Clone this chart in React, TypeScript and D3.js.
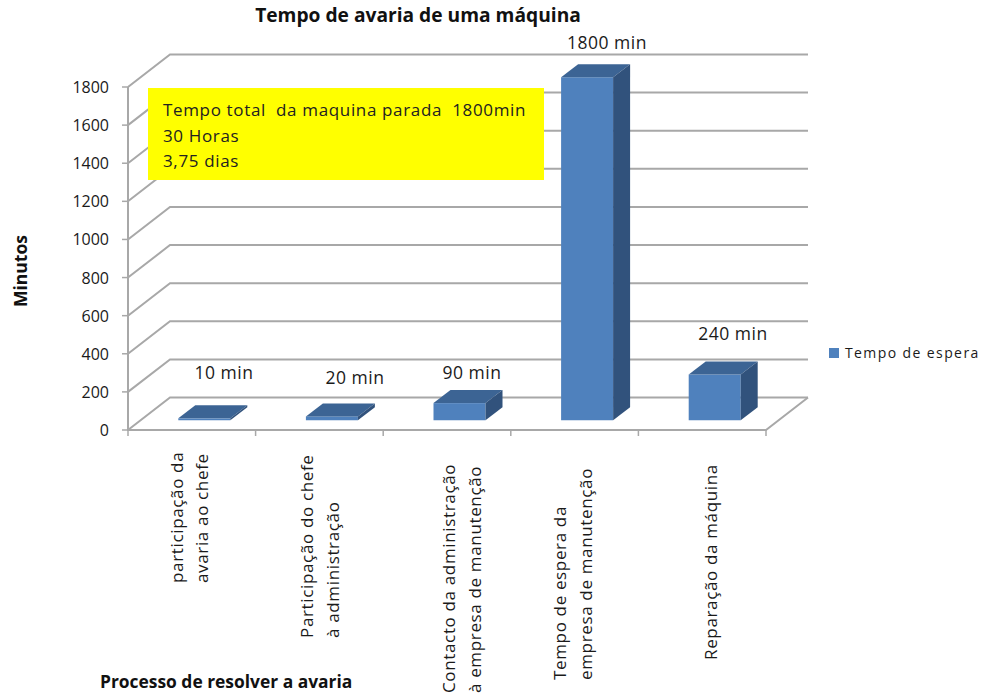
import React from "react";
import * as d3 from "d3";

const categories: string[][] = [
  ["participação da", "avaria ao chefe"],
  ["Participação do chefe", "à administração"],
  ["Contacto da administração", "à empresa de manutenção"],
  ["Tempo de espera da", "empresa de manutenção"],
  ["Reparação da máquina"],
];
const waitMinutes = [10, 20, 90, 1800, 240];
const valueLabels = ["10 min", "20 min", "90 min", "1800 min", "240 min"];
const yTicks = [0, 200, 400, 600, 800, 1000, 1200, 1400, 1600, 1800];
const noteLines = ["Tempo total  da maquina parada  1800min", "30 Horas", "3,75 dias"];

// Hand-placed label anchors: [x, baseline y]
const valueLabelAnchors = [[224, 379], [355, 384], [472, 379], [607, 49], [733, 340]];
const categoryLabelStarts = [583, 638, 693, 680, 660];
const categoryLabelX = [[183, 208], [313, 339], [455, 481], [566, 592], [717]];

const FONT = "'Open Sans', 'Noto Sans', sans-serif";
const GRID = "#a8a8a8";
const TEXT = "#1a1a1a";

// Oblique projection of the 3D chart box
const wallDx = 42;
const wallDy = -32.5;
const barDx = 17;
const barDy = -13;
const inX = (wallDx - barDx) / 2;
const inY = (wallDy - barDy) / 2;

const x = d3.scaleBand<number>().domain(d3.range(categories.length)).range([128, 766]);
const y = d3.scaleLinear().domain([0, 1800]).range([430, 87]);
const BAR_W = 52;

const poly = (pts: number[][]) => pts.map((p) => p.join(",")).join(" ");

export default function App() {
  const x0 = x.range()[0];
  const x1 = x.range()[1];
  const y0 = y(0);
  return (
    <svg
      width={984}
      height={697}
      style={{ position: "absolute", left: 0, top: 0, background: "#fff" }}
      fontFamily={FONT}
      fill={TEXT}
    >
      <text x={418} y={22} fontSize={19.2} fontWeight={700} textAnchor="middle" fill="#111">
        Tempo de avaria de uma máquina
      </text>

      {/* Wall gridlines, each with its receding segment on the side wall */}
      {yTicks.map((t) => (
        <g key={t}>
          <polyline
            points={poly([
              [x0, y(t)],
              [x0 + wallDx, y(t) + wallDy],
              [x1 + wallDx, y(t) + wallDy],
            ])}
            fill="none"
            stroke={GRID}
            strokeWidth={2}
          />
          <line x1={x0 - 6} x2={x0} y1={y(t)} y2={y(t)} stroke={GRID} strokeWidth={1.5} />
          <text x={109} y={y(t) + 6} fontSize={16} textAnchor="end">
            {t}
          </text>
        </g>
      ))}

      {/* Floor outline and axes */}
      <polyline
        points={poly([
          [x0, y(1800)],
          [x0, y0],
          [x1, y0],
          [x1 + wallDx, y0 + wallDy],
        ])}
        fill="none"
        stroke={GRID}
        strokeWidth={2}
      />
      {d3.range(categories.length + 1).map((i) => {
        const tx = i === categories.length ? x1 : (x(i) as number);
        return <line key={i} x1={tx} x2={tx} y1={y0} y2={y0 + 6} stroke={GRID} strokeWidth={1.5} />;
      })}

      {/* 3D bars */}
      {waitMinutes.map((v, i) => {
        const left = (x(i) as number) + (x.bandwidth() - BAR_W) / 2 + inX;
        const right = left + BAR_W;
        const base = y(0) + inY;
        const top = y(v) + inY;
        return (
          <g key={i}>
            <rect x={left} y={top} width={BAR_W} height={base - top} fill="#4f81bd" />
            <polygon
              points={poly([
                [left, top],
                [left + barDx, top + barDy],
                [right + barDx, top + barDy],
                [right, top],
              ])}
              fill="#3c6494"
            />
            <polygon
              points={poly([
                [right, top],
                [right + barDx, top + barDy],
                [right + barDx, base + barDy],
                [right, base],
              ])}
              fill="#31527c"
            />
          </g>
        );
      })}

      {/* Value labels */}
      {valueLabels.map((s, i) => (
        <text
          key={s}
          x={valueLabelAnchors[i][0]}
          y={valueLabelAnchors[i][1]}
          fontSize={17.5}
          letterSpacing={0.5}
          textAnchor="middle"
        >
          {s}
        </text>
      ))}

      {/* Annotation box */}
      <rect x={148} y={88} width={396} height={92} fill="#ffff00" />
      {noteLines.map((s, i) => (
        <text
          key={s}
          x={163}
          y={116 + i * 25.5}
          fontSize={17}
          letterSpacing={0.65}
          fill="#222"
          style={{ whiteSpace: "pre" }}
        >
          {s}
        </text>
      ))}

      {/* Category labels */}
      {categories.map((lines, i) =>
        lines.map((s, j) => (
          <text
            key={s}
            transform={`translate(${categoryLabelX[i][j]},${categoryLabelStarts[i]}) rotate(-90)`}
            fontSize={17}
            letterSpacing={0.65}
          >
            {s}
          </text>
        ))
      )}

      <text
        transform="translate(27,271) rotate(-90)"
        fontSize={17.5}
        fontWeight={700}
        textAnchor="middle"
        fill="#111"
      >
        Minutos
      </text>
      <text x={100} y={688} fontSize={17.4} fontWeight={700} fill="#111">
        Processo de resolver a avaria
      </text>

      {/* Legend */}
      <rect x={829} y={348} width={10} height={10} fill="#4f81bd" />
      <text x={845} y={358} fontSize={14} letterSpacing={1.4}>
        Tempo de espera
      </text>
    </svg>
  );
}
